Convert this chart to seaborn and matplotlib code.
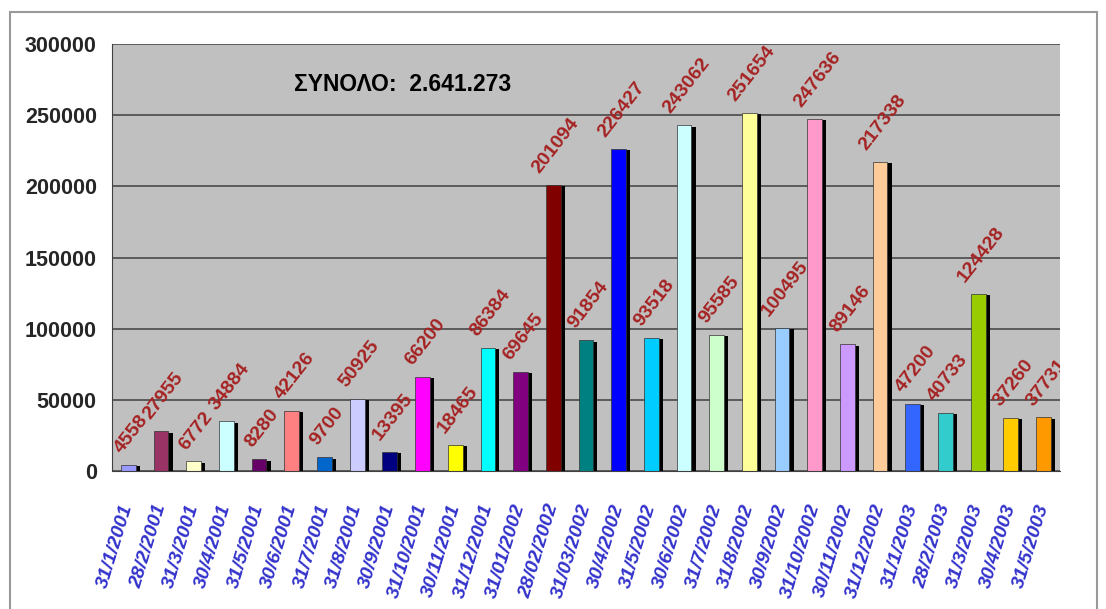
import seaborn as sns
import pandas as pd
import matplotlib.pyplot as plt
import matplotlib.patheffects as pe
from matplotlib.patches import Rectangle

dates = ["31/1/2001", "28/2/2001", "31/3/2001", "30/4/2001", "31/5/2001", "30/6/2001",
         "31/7/2001", "31/8/2001", "30/9/2001", "31/10/2001", "30/11/2001", "31/12/2001",
         "31/01/2002", "28/02/2002", "31/03/2002", "30/4/2002", "31/5/2002", "30/6/2002",
         "31/7/2002", "31/8/2002", "30/9/2002", "31/10/2002", "30/11/2002", "31/12/2002",
         "31/1/2003", "28/2/2003", "31/3/2003", "30/4/2003", "31/5/2003"]
values = [4558, 27955, 6772, 34884, 8280, 42126, 9700, 50925, 13395, 66200, 18465, 86384,
          69645, 201094, 91854, 226427, 93518, 243062, 95585, 251654, 100495, 247636,
          89146, 217338, 47200, 40733, 124428, 37260, 37731]
colors = ["#9999FF", "#993366", "#FFFFCC", "#CCFFFF", "#660066", "#FF8080", "#0066CC",
          "#CCCCFF", "#000080", "#FF00FF", "#FFFF00", "#00FFFF", "#800080", "#800000",
          "#008080", "#0000FF", "#00CCFF", "#CCFFFF", "#CCFFCC", "#FFFF99", "#99CCFF",
          "#FF99CC", "#CC99FF", "#FFCC99", "#3366FF", "#33CCCC", "#99CC00", "#FFCC00",
          "#FF9900"]
total_text = "ΣΥΝΟΛΟ:  2.641.273"

df = pd.DataFrame({"date": dates, "value": values})

sns.set_style("white")
plt.rcParams['font.family'] = ['Liberation Sans', 'DejaVu Sans']

fig = plt.figure(figsize=(11.06, 6.09), dpi=100)
ax = fig.add_axes([0.1013, 0.2266, 0.857, 0.701])
ax.set_facecolor("#C0C0C0")

sns.barplot(data=df, x="date", y="value", hue="date", palette=colors, legend=False,
            width=0.45, saturation=1, edgecolor="#333333", linewidth=0.5, ax=ax)

for p in ax.patches:
    p.set_path_effects([pe.SimplePatchShadow(offset=(3, -1), shadow_rgbFace="black", alpha=1),
                        pe.Normal()])

# value labels; the last one gets cut by the plot edge like in the original
for c in ax.containers:
    labels = ax.bar_label(c, rotation=52, color="#A52222", fontsize=14, fontweight="bold")
    for t in labels:
        t.xyann = (2, 6)
        t.set_clip_on(True)
        t.set_clip_box(ax.bbox)

ax.set_xlim(-0.5, len(dates) - 0.5)
ax.set_ylim(0, 300000)
ax.set_yticks(range(0, 300001, 50000))
ax.yaxis.grid(True, color="#404040", linewidth=1.1)
ax.set_axisbelow(True)

ax.set_xlabel("")
ax.set_ylabel("")
ax.tick_params(axis="y", labelsize=15.5, length=5, color="#404040", pad=6)
for t in ax.get_yticklabels():
    t.set_fontweight("bold")

ax.set_xticks(range(len(dates)))
ax.set_xticks([x + 0.5 for x in range(-1, len(dates))], minor=True)
ax.tick_params(axis="x", which="major", length=0, pad=24)
ax.tick_params(axis="x", which="minor", length=5, color="#404040")
ax.set_xticklabels(dates, rotation=73, ha="right", va="center", rotation_mode="anchor",
                   color="#3333CC", fontsize=14, fontweight="bold", fontstyle="italic")

for s in ["top", "right"]:
    ax.spines[s].set_visible(False)
ax.spines["left"].set_color("#404040")
ax.spines["bottom"].set_color("#404040")

ax.text(0.192, 0.905, total_text, transform=ax.transAxes, fontsize=16.5,
        fontweight="bold", va="center", ha="left", color="black")

fig.patches.append(Rectangle((0.009, -0.01), 0.983, 0.99, transform=fig.transFigure,
                             fill=False, edgecolor="#999999", linewidth=1.5))

fig.savefig("out.png", dpi=100)
